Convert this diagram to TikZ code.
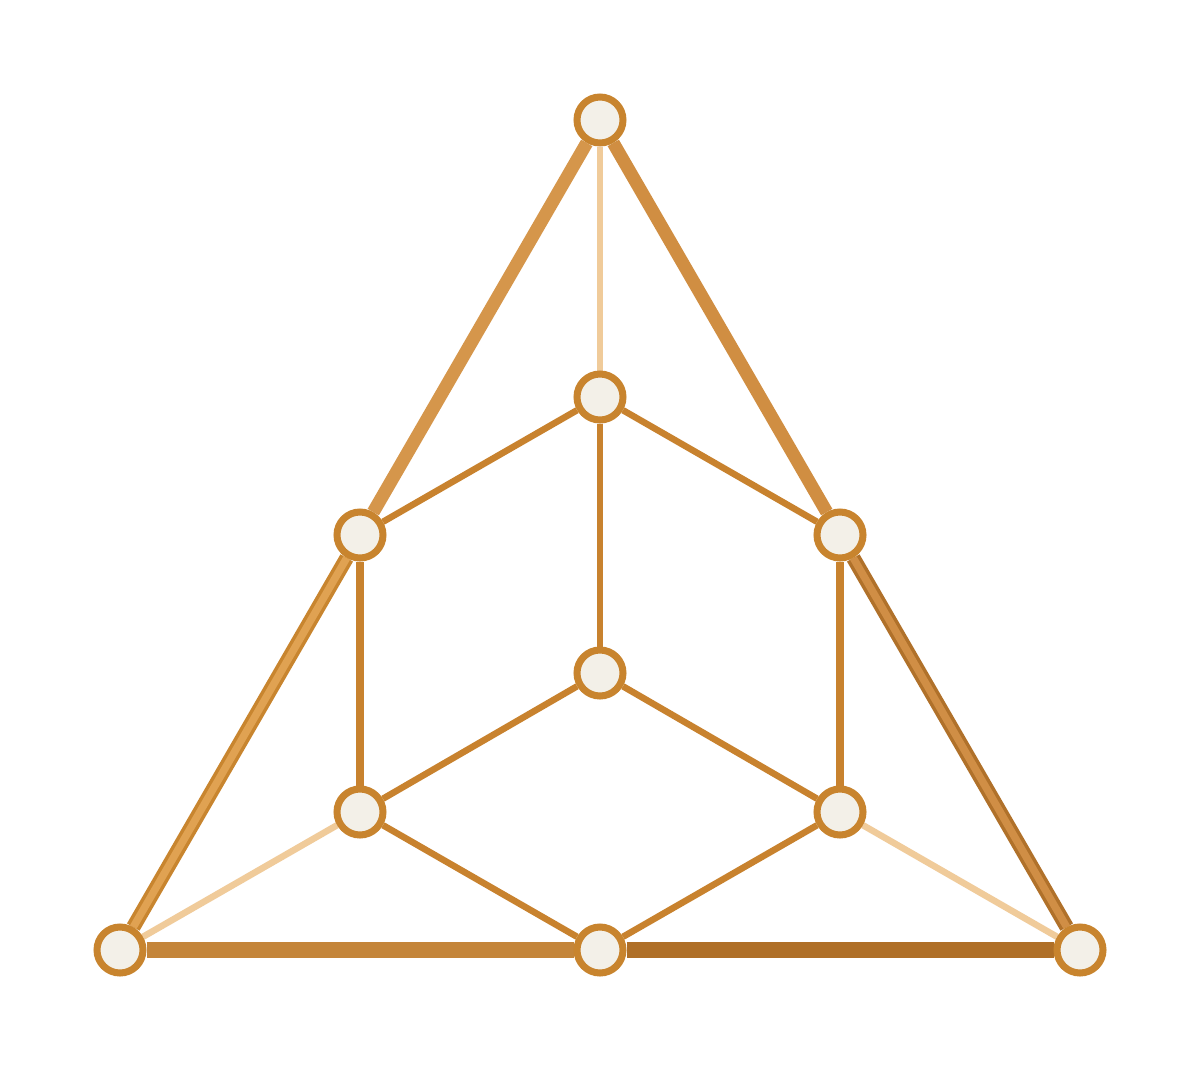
\documentclass[tikz,border=0pt]{standalone}
\usetikzlibrary{backgrounds}
\definecolor{nodefill}{HTML}{F3F0E8}
\definecolor{nodeedge}{HTML}{C8842E}
\definecolor{edgemain}{HTML}{C8822E}
\definecolor{edgelight}{HTML}{F0CB9A}
\definecolor{outerTL}{HTML}{D5964B}
\definecolor{outerTR}{HTML}{D08E42}
\definecolor{outerLdark}{HTML}{C8852F}
\definecolor{outerLlight}{HTML}{E0A252}
\definecolor{outerRdark}{HTML}{B0712A}
\definecolor{outerRlight}{HTML}{D08E45}
\definecolor{baseL}{HTML}{C4853A}
\definecolor{baseR}{HTML}{AF6F27}
\begin{document}
\begin{tikzpicture}[x=1pt,y=-1pt,
  vtx/.style={circle,draw=nodeedge,fill=nodefill,line width=7pt,minimum size=46pt,inner sep=0pt},
  inner/.style={draw=edgemain,line width=6.5pt},
  innerv/.style={draw=edgemain,line width=7.5pt},
  faint/.style={draw=edgelight,line width=6.5pt},
  outer/.style={line width=13pt},
  outerdbl/.style={line width=3.5pt,double distance=7.5pt},
  base/.style={line width=16pt}]
\useasboundingbox (0,0) rectangle (1200,1072);
\node[vtx] (T)  at (600,120) {};
\node[vtx] (M)  at (600,397) {};
\node[vtx] (L)  at (360,535) {};
\node[vtx] (R)  at (840,535) {};
\node[vtx] (C)  at (600,673) {};
\node[vtx] (LL) at (360,812) {};
\node[vtx] (LR) at (840,812) {};
\node[vtx] (BL) at (120,950) {};
\node[vtx] (BM) at (600,950) {};
\node[vtx] (BR) at (1080,950) {};
\begin{scope}[on background layer]
\fill[white] (0,0) rectangle (1200,1072);
\draw[faint] (T) -- (M);
\draw[faint] (LL) -- (BL);
\draw[faint] (LR) -- (BR);
\draw[outer,draw=outerTL] (T) -- (L);
\draw[outer,draw=outerTR] (T) -- (R);
\draw[outerdbl,draw=outerLdark,double=outerLlight] (L) -- (BL);
\draw[outerdbl,draw=outerRdark,double=outerRlight] (R) -- (BR);
\draw[base,draw=baseL] (BL) -- (BM);
\draw[base,draw=baseR] (BM) -- (BR);
\draw[inner] (M) -- (L);
\draw[inner] (M) -- (R);
\draw[inner] (M) -- (C);
\draw[innerv] (L) -- (LL);
\draw[innerv] (R) -- (LR);
\draw[inner] (C) -- (LL);
\draw[inner] (C) -- (LR);
\draw[inner] (LL) -- (BM);
\draw[inner] (LR) -- (BM);
\end{scope}
\end{tikzpicture}
\end{document}
